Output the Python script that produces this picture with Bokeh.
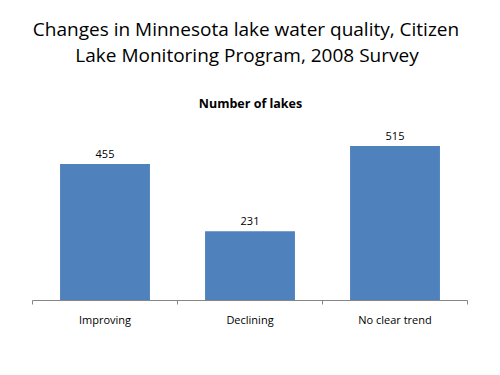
from bokeh.plotting import figure
from bokeh.layouts import column
from bokeh.models import Range1d, FixedTicker, Label, ColumnDataSource
from bokeh.core.properties import value
from bokeh.embed import file_html
from bokeh.resources import INLINE

categories = ["Improving", "Declining", "No clear trend"]
lakes = [455, 231, 515]
title_lines = ["Changes in Minnesota lake water quality, Citizen",
               "Lake Monitoring Program, 2008 Survey"]
subtitle = "Number of lakes"

FONT = "Open Sans"

# ---- title panel (frame aligned with chart frame: x 32..467) ----
t = figure(width=500, height=120, output_backend="svg", toolbar_location=None,
           x_range=Range1d(0, 1), y_range=Range1d(0, 1),
           x_axis_location=None, y_axis_location=None,
           min_border_left=32, min_border_right=33, min_border_top=0, min_border_bottom=0)
t.outline_line_color = None
t.grid.visible = False
for txt, x, y in [(title_lines[0], 213.5, 92), (title_lines[1], 214.5, 66)]:
    t.add_layout(Label(x=x, y=y, x_units="screen", y_units="screen", text=txt,
                       text_align="center", text_baseline="alphabetic",
                       text_font=FONT, text_font_size="19px", text_color="black"))
t.add_layout(Label(x=218, y=17, x_units="screen", y_units="screen", text=subtitle,
                   text_align="center", text_baseline="alphabetic",
                   text_font=FONT, text_font_size="12.5px", text_font_style="bold",
                   text_color="black"))

# ---- chart ----
xpos = [i + 0.5 for i in range(len(categories))]
src = ColumnDataSource(dict(x=xpos, y=lakes, lbl=[str(v) for v in lakes]))

p = figure(width=500, height=255, output_backend="svg", toolbar_location=None,
           x_range=Range1d(0, len(categories)), y_range=Range1d(0, 600),
           y_axis_location=None, min_border_left=32, min_border_right=33,
           min_border_top=0, min_border_bottom=75)
p.outline_line_color = None
p.grid.visible = False

p.vbar(x="x", top="y", width=0.62, bottom=0, source=src,
       fill_color="#4F81BD", line_color=None)
p.text(x="x", y="y", text="lbl", source=src, text_align="center",
       text_baseline="alphabetic", y_offset=-10, text_font=value(FONT),
       text_font_size="11px", text_color="black")

ax = p.xaxis[0]
ax.ticker = FixedTicker(ticks=xpos, minor_ticks=list(range(len(categories) + 1)))
ax.major_label_overrides = {x: c for x, c in zip(xpos, categories)}
ax.major_tick_out = 0
ax.major_tick_in = 0
ax.minor_tick_out = 4
ax.minor_tick_in = 0
ax.minor_tick_line_color = "#868686"
ax.axis_line_color = "#868686"
ax.major_label_standoff = 7
ax.major_label_text_font = FONT
ax.major_label_text_font_size = "11px"
ax.major_label_text_color = "black"

layout = column(t, p, spacing=0)
open("out.html", "w").write(file_html(layout, INLINE))
